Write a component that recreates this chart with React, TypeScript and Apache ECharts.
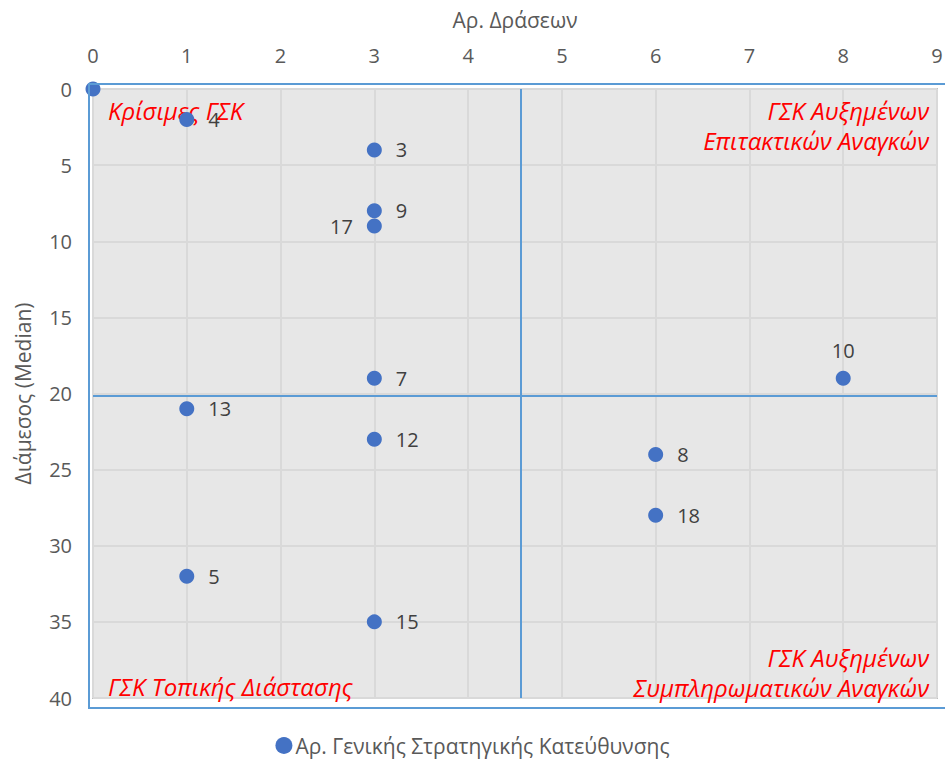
import React, { useEffect, useRef } from "react";
import * as echarts from "echarts";

const xTicks = [0, 1, 2, 3, 4, 5, 6, 7, 8, 9];
const yTicks = [0, 5, 10, 15, 20, 25, 30, 35, 40];
const xValues = [0, 1, 3, 3, 3, 3, 8, 1, 3, 6, 6, 1, 3];
const yValues = [0, 2, 4, 8, 9, 19, 19, 21, 23, 24, 28, 32, 35];
const pointLabels = ["", "4", "3", "9", "17", "7", "10", "13", "12", "8", "18", "5", "15"];
const labelPositions = ["right", "right", "right", "right", "left", "right", "top", "right", "right", "right", "right", "right", "right"];
const quadrantX = 4.56;
const quadrantY = 20.15;
const seriesName = "Αρ. Γενικής Στρατηγικής Κατεύθυνσης";
const xTitle = "Αρ. Δράσεων";
const yTitle = "Διάμεσος (Median)";

const FONT = "'Open Sans', 'Noto Sans', sans-serif";

export default function App() {
  const ref = useRef<HTMLDivElement>(null);
  useEffect(() => {
    if (!ref.current) return;
    const chart = echarts.init(ref.current, undefined, { renderer: "svg" });
    const data = xValues.map((x, i) => ({
      value: [x, yValues[i]],
      label: {
        show: pointLabels[i] !== "",
        formatter: pointLabels[i],
        position: labelPositions[i],
        distance: labelPositions[i] === "top" ? 10 : 14,
      },
    }));
    const quadText = (text: string, x: number, y: number, align: string, vAlign: string) => ({
      type: "text",
      x,
      y,
      z: 1,
      style: {
        text,
        fill: "#ff0000",
        fontFamily: FONT,
        fontSize: 24,
        fontStyle: "italic",
        align,
        verticalAlign: vAlign,
        lineHeight: 30,
      },
    });
    chart.setOption({
      animation: false,
      grid: {
        left: 93,
        right: 8,
        top: 89,
        bottom: 63,
        outerBoundsMode: "none",
        show: true,
        backgroundColor: "#e7e7e7",
        borderColor: "#bfbfbf",
        borderWidth: 2,
      },
      xAxis: {
        type: "value",
        position: "top",
        min: 0,
        max: 9,
        interval: 1,
        name: xTitle,
        nameLocation: "middle",
        nameGap: 59,
        nameTextStyle: { fontFamily: FONT, fontSize: 21, color: "#595959" },
        axisLine: { show: false },
        axisTick: { show: false },
        axisLabel: { fontFamily: FONT, fontSize: 20, color: "#595959", margin: 24 },
        splitLine: { show: true, lineStyle: { color: "#d9d9d9", width: 2 } },
      },
      yAxis: {
        type: "value",
        inverse: true,
        min: 0,
        max: 40,
        interval: 5,
        name: yTitle,
        nameLocation: "middle",
        nameGap: 60,
        nameRotate: 90,
        nameTextStyle: { fontFamily: FONT, fontSize: 21, color: "#595959" },
        axisLine: { show: false },
        axisTick: { show: false },
        axisLabel: { fontFamily: FONT, fontSize: 20, color: "#595959", margin: 21 },
        splitLine: { show: true, lineStyle: { color: "#d9d9d9", width: 2 } },
      },
      legend: {
        bottom: 0,
        left: "center",
        itemWidth: 17,
        itemHeight: 17,
        itemGap: 4,
        icon: "circle",
        textStyle: { fontFamily: FONT, fontSize: 21, color: "#595959", padding: [0, 0, 0, -2] },
        data: [seriesName],
      },
      series: [
        {
          name: seriesName,
          type: "scatter",
          symbol: "circle",
          symbolSize: 15,
          z: 5,
          itemStyle: { color: "#4472c4", opacity: 1 },
          label: { fontFamily: FONT, fontSize: 20, color: "#404040" },
          data,
          markLine: {
            silent: true,
            symbol: "none",
            label: { show: false },
            lineStyle: { color: "#5b9bd5", width: 2, type: "solid" },
            data: [{ xAxis: quadrantX }, { yAxis: quadrantY }],
          },
        },
      ],
      graphic: [
        {
          type: "rect",
          shape: { x: 89, y: 84, width: 870, height: 624 },
          style: { fill: "none", stroke: "#5b9bd5", lineWidth: 2 },
          z: 50,
          silent: true,
        },
        quadText("Κρίσιμες ΓΣΚ", 108, 110, "left", "middle"),
        quadText("ΓΣΚ Αυξημένων\nΕπιτακτικών Αναγκών", 929, 125, "right", "middle"),
        quadText("ΓΣΚ Τοπικής Διάστασης", 108, 686, "left", "middle"),
        quadText("ΓΣΚ Αυξημένων\nΣυμπληρωματικών Αναγκών", 929, 672, "right", "middle"),
      ],
    });
    return () => chart.dispose();
  }, []);
  return <div ref={ref} style={{ width: 945, height: 761, position: "absolute", left: 0, top: 0 }} />;
}
